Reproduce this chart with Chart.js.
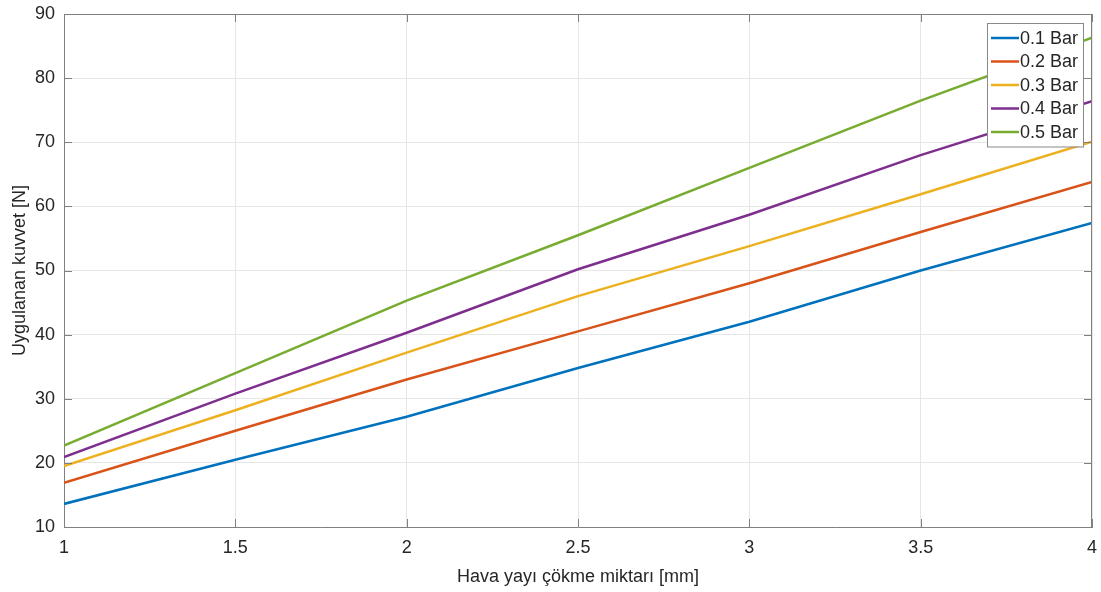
<!DOCTYPE html>
<html>
<head>
<meta charset="utf-8">
<script src="https://cdn.jsdelivr.net/npm/chart.js@4"></script>
<style>
  html, body { margin: 0; padding: 0; background: #fff; }
  #wrap { width: 1101px; height: 592px; position: relative; }
</style>
</head>
<body>
<div id="wrap"><canvas id="myChart" width="1101" height="592"></canvas></div>
<script>
// values (x in mm, force in N)
var xValues = [1, 1.5, 2, 2.5, 3, 3.5, 4];
var bar01 = [13.6, 20.5, 27.2, 34.8, 42.0, 50.0, 57.4];
var bar02 = [16.9, 25.0, 33.0, 40.5, 48.0, 56.0, 63.8];
var bar03 = [19.5, 28.2, 37.2, 46.0, 53.8, 61.9, 70.1];
var bar04 = [20.9, 30.8, 40.3, 50.2, 58.7, 68.0, 76.4];
var bar05 = [22.7, 34.0, 45.3, 55.5, 66.0, 76.5, 86.3];
var seriesNames = ["0.1 Bar", "0.2 Bar", "0.3 Bar", "0.4 Bar", "0.5 Bar"];
var seriesColors = ["#0072BD", "#D95319", "#EDB120", "#7E2F8E", "#77AC30"];

var allSeries = [bar01, bar02, bar03, bar04, bar05];
var fontFam = "'Liberation Sans', Arial, sans-serif";
var textCol = "#262626";

function toPoints(vals) {
  return vals.map(function (v, i) { return { x: xValues[i], y: v }; });
}

var datasets = allSeries.map(function (vals, i) {
  return {
    label: seriesNames[i],
    data: toPoints(vals),
    borderColor: seriesColors[i],
    backgroundColor: seriesColors[i],
    borderWidth: 2.5,
    pointRadius: 0,
    fill: false,
    tension: 0
  };
});

// box on top/right, inward ticks and legend inside the axes
var matlabBox = {
  id: "matlabBox",
  afterDraw: function (chart) {
    var ctx = chart.ctx;
    var a = chart.chartArea;
    var xs = chart.scales.x, ys = chart.scales.y;
    ctx.save();
    ctx.strokeStyle = "#808080";
    ctx.lineWidth = 1;
    ctx.beginPath();
    ctx.moveTo(a.left, a.top + 0.5);
    ctx.lineTo(a.right, a.top + 0.5);
    ctx.moveTo(a.right - 0.5, a.top);
    ctx.lineTo(a.right - 0.5, a.bottom);
    xs.ticks.forEach(function (t) {
      var px = Math.round(xs.getPixelForValue(t.value)) + 0.5;
      ctx.moveTo(px, a.bottom); ctx.lineTo(px, a.bottom - 8);
      ctx.moveTo(px, a.top); ctx.lineTo(px, a.top + 8);
    });
    ys.ticks.forEach(function (t) {
      var py = Math.round(ys.getPixelForValue(t.value)) + 0.5;
      ctx.moveTo(a.left, py); ctx.lineTo(a.left + 8, py);
      ctx.moveTo(a.right, py); ctx.lineTo(a.right - 8, py);
    });
    ctx.stroke();

    // legend
    var boxW = 96, rowH = 23.5;
    var n = chart.data.datasets.length;
    var boxH = n * rowH + 6;
    var bx = a.right - 9 - boxW, by = a.top + 9;
    ctx.fillStyle = "#fff";
    ctx.fillRect(bx, by, boxW, boxH);
    ctx.strokeStyle = "#8a8a8a";
    ctx.strokeRect(bx + 0.5, by + 0.5, boxW, boxH);
    ctx.font = "18px " + fontFam;
    ctx.textBaseline = "middle";
    chart.data.datasets.forEach(function (ds, i) {
      var cy = by + 15 + i * rowH;
      ctx.strokeStyle = ds.borderColor;
      ctx.lineWidth = 2.5;
      ctx.beginPath();
      ctx.moveTo(bx + 4, cy);
      ctx.lineTo(bx + 32, cy);
      ctx.stroke();
      ctx.fillStyle = textCol;
      ctx.fillText(ds.label, bx + 33, cy + 1);
    });
    ctx.restore();
  }
};

var ctx = document.getElementById("myChart").getContext("2d");
var myChart = new Chart(ctx, {
  type: "line",
  data: { datasets: datasets },
  options: {
    responsive: false,
    animation: false,
    maintainAspectRatio: false,
    layout: { padding: { left: 0, right: 9, top: 14, bottom: 0 } },
    plugins: {
      legend: { display: false },
      tooltip: { enabled: false }
    },
    scales: {
      x: {
        type: "linear",
        min: 1,
        max: 4,
        ticks: {
          stepSize: 0.5,
          color: textCol,
          font: { family: fontFam, size: 18 },
          padding: 10,
          maxRotation: 0,
          callback: function (v) { return String(v); }
        },
        grid: { color: "#e6e6e6", drawTicks: false },
        border: { color: "#808080" },
        title: {
          display: true,
          text: "Hava yayı çökme miktarı [mm]",
          color: textCol,
          font: { family: fontFam, size: 18 },
          padding: { top: 0, bottom: 4 }
        },
        afterFit: function (scale) {
          scale.height = 65;
          scale.paddingLeft = 0;
          scale.paddingRight = 0;
        }
      },
      y: {
        type: "linear",
        min: 10,
        max: 90,
        ticks: {
          stepSize: 10,
          color: textCol,
          font: { family: fontFam, size: 18 },
          padding: 9,
          callback: function (v) { return String(v); }
        },
        grid: { color: "#e6e6e6", drawTicks: false },
        border: { color: "#808080" },
        title: {
          display: true,
          text: "Uygulanan kuvvet [N]",
          color: textCol,
          font: { family: fontFam, size: 18 },
          padding: { top: 9, bottom: 0 }
        },
        afterFit: function (scale) {
          scale.width = 64;
          scale.paddingTop = 0;
          scale.paddingBottom = 0;
        }
      }
    }
  },
  plugins: [matlabBox]
});
</script>
</body>
</html>
